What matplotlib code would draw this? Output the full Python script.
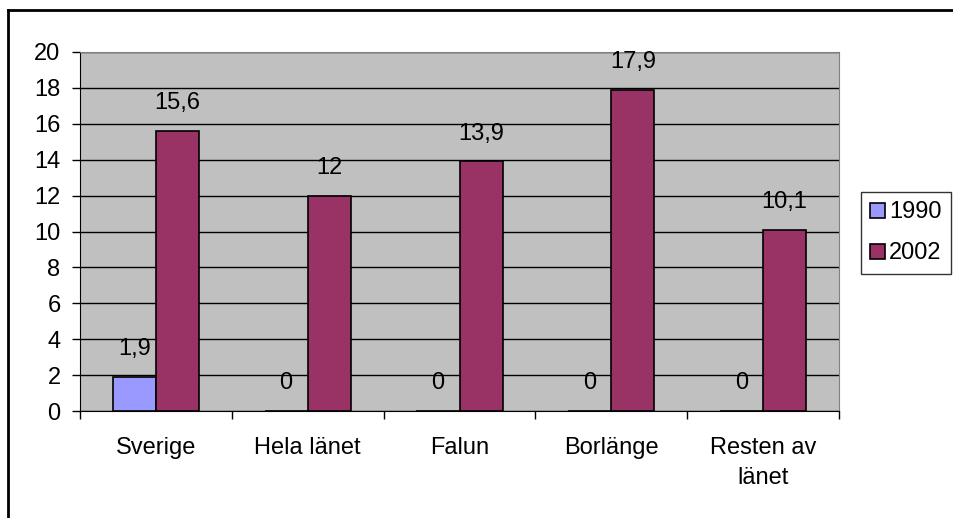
import matplotlib
matplotlib.use("Agg")
import matplotlib.pyplot as plt
import numpy as np
from matplotlib.lines import Line2D

categories = ["Sverige", "Hela länet", "Falun", "Borlänge", "Resten av\nlänet"]
years = ["1990", "2002"]
values_1990 = [1.9, 0, 0, 0, 0]
values_2002 = [15.6, 12, 13.9, 17.9, 10.1]
labels_1990 = ["1,9", "0", "0", "0", "0"]
labels_2002 = ["15,6", "12", "13,9", "17,9", "10,1"]
yticks = [0, 2, 4, 6, 8, 10, 12, 14, 16, 18, 20]

plt.rcParams['font.family'] = ['Liberation Sans', 'DejaVu Sans']
fs = 17

fig = plt.figure(figsize=(9.54, 5.18), dpi=100)
ax = fig.add_axes([80 / 954, 1 - 411 / 518, 759 / 954, 359 / 518])
ax.set_facecolor('#C0C0C0')

x = np.arange(len(categories))
w = 0.284
b1 = ax.bar(x - w / 2, values_1990, w, color='#9999FF', edgecolor='black', linewidth=1.2, label=years[0], zorder=3)
b2 = ax.bar(x + w / 2, values_2002, w, color='#993366', edgecolor='black', linewidth=1.2, label=years[1], zorder=3)

for rects, labs in [(b1, labels_1990), (b2, labels_2002)]:
    for r, lab in zip(rects, labs):
        ax.annotate(lab, (r.get_x() + r.get_width() / 2, r.get_height()),
                    xytext=(0, 20), textcoords='offset points',
                    ha='center', va='center', fontsize=fs)

ax.set_xlim(-0.5, len(categories) - 0.5)
ax.set_ylim(0, 20)
ax.set_yticks(yticks)
ax.set_yticklabels([str(t) for t in yticks], fontsize=fs)
ax.yaxis.grid(True, color='black', linewidth=1)
ax.set_axisbelow(True)

ax.set_xticks(x)
ax.set_xticklabels(categories, fontsize=fs, linespacing=1.45)
ax.tick_params(axis='x', length=0, pad=19)
ax.set_xticks(np.arange(len(categories) + 1) - 0.5, minor=True)
ax.tick_params(axis='x', which='minor', length=6, width=1, color='black')
ax.tick_params(axis='y', length=6, width=1, pad=8)

for s in ['top', 'right']:
    ax.spines[s].set_color('#808080')
ax.spines['left'].set_color('black')
ax.spines['bottom'].set_color('black')

leg = ax.legend(loc='upper left', bbox_to_anchor=(861 / 954, 1 - 192 / 518),
                bbox_transform=fig.transFigure, fontsize=fs, frameon=True,
                fancybox=False, edgecolor='black', handlelength=0.6,
                handleheight=0.6, handletextpad=0.2, borderpad=0.4,
                labelspacing=0.8, borderaxespad=0)
leg.get_frame().set_linewidth(1)

# outer border of the chart area
fig.add_artist(Line2D([8 / 954, 8 / 954], [0, 1 - 10 / 518], color='black', linewidth=2, transform=fig.transFigure))
fig.add_artist(Line2D([8 / 954, 1], [1 - 10 / 518, 1 - 10 / 518], color='black', linewidth=2, transform=fig.transFigure))

plt.savefig("out.png", dpi=100)
